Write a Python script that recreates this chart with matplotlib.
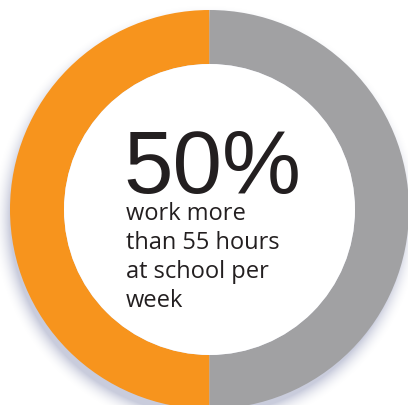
import numpy as np
import matplotlib
matplotlib.use("Agg")
import matplotlib.pyplot as plt
from matplotlib.patches import Wedge, Circle

# Share of respondents
share_pct = [50, 50]
segment_colors = ["#F7941D", "#A1A1A3"]
headline = "50%"
caption_lines = ["work more", "than 55 hours", "at school per", "week"]

W, H = 408, 405
fig = plt.figure(figsize=(W / 100, H / 100), dpi=100)
ax = fig.add_axes([0, 0, 1, 1])
ax.set_xlim(0, W)
ax.set_ylim(H, 0)
ax.set_aspect("equal")
ax.axis("off")

cx, cy = 209.5, 209.5
r_out, r_in = 199.5, 145.5

# soft drop shadow, mostly below the ring
yy, xx = np.mgrid[0:H, 0:W] + 0.5
d = np.hypot(xx - (cx - 3), yy - (cy + 9)) - (r_out - 3)
alpha = np.clip(1 - d / 18.0, 0, 1) ** 2 * 0.5
shadow = np.zeros((H, W, 4))
shadow[..., 0] = 0.58
shadow[..., 1] = 0.60
shadow[..., 2] = 0.73
shadow[..., 3] = alpha
ax.imshow(shadow, extent=(0, W, H, 0), zorder=0, interpolation="bilinear")

# donut segments: first value fills the left half, second the right half
start = 90.0
for val, col in zip(share_pct, segment_colors):
    sweep = 360.0 * val / sum(share_pct)
    # y axis is inverted, so positive angles run clockwise on screen
    ax.add_patch(Wedge((cx, cy), r_out, start, start + sweep,
                       width=r_out - r_in, facecolor=col, edgecolor="none", zorder=2))
    start += sweep
ax.add_patch(Circle((cx, cy), r_in, facecolor="white", edgecolor="none", zorder=3))

ax.text(123, 193, headline, fontsize=64, family="Liberation Sans",
        color="#231F20", ha="left", va="baseline", zorder=4)

base = 220
for i, line in enumerate(caption_lines):
    ax.text(126, base + 29 * i, line, fontsize=17, family="Open Sans",
            color="#231F20", ha="left", va="baseline", zorder=4)

fig.savefig("out.png", dpi=100, facecolor="white")
